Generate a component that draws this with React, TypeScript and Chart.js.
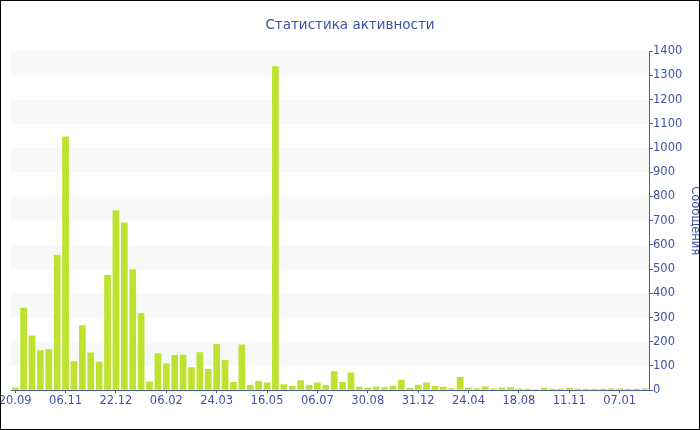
import React, { useEffect, useRef } from "react";
import { Chart, registerables } from "chart.js";

Chart.register(...registerables);

const titleText = "Статистика активности";
const yTitle = "Сообщения";
const tickLabels = ["20.09", "06.11", "22.12", "06.02", "24.03", "16.05", "06.07", "30.08", "31.12", "24.04", "18.08", "11.11", "07.01"];
const labelEvery = 6;
const values = [
  11, 340, 226, 165, 169, 559, 1048, 120, 268, 156,
  117, 476, 743, 693, 500, 318, 36, 153, 110, 145,
  146, 95, 157, 88, 191, 125, 34, 189, 22, 38,
  32, 1338, 25, 17, 41, 21, 32, 21, 78, 34,
  73, 14, 10, 15, 12, 18, 43, 10, 22, 32,
  17, 14, 8, 55, 11, 8, 15, 7, 11, 12,
  7, 6, 4, 10, 6, 6, 10, 6, 6, 6,
  6, 7, 7, 6, 6, 7,
];
const categories = values.map((_, i) => String(i));
const yMax = 1400;
const bandStep = 100;

const axisColor = "#4a5ba6";
const textColor = "#3e52a2";
const barColor = "#bde22f";
const bandColor = "#f8f8f8";
const font = "'DejaVu Sans', Verdana, sans-serif";

const bandsPlugin = {
  id: "bands",
  beforeDatasetsDraw(chart: any) {
    const { ctx, chartArea, scales } = chart;
    const y = scales.y;
    ctx.save();
    ctx.fillStyle = bandColor;
    for (let v = bandStep; v < yMax; v += bandStep * 2) {
      const top = y.getPixelForValue(v + bandStep);
      const bot = y.getPixelForValue(v);
      ctx.fillRect(chartArea.left, top, chartArea.right - chartArea.left, bot - top);
    }
    ctx.restore();
  },
  afterDraw(chart: any) {
    const { ctx, width, height } = chart;
    ctx.save();
    ctx.strokeStyle = "#000";
    ctx.lineWidth = 1;
    ctx.strokeRect(0.5, 0.5, width - 1, height - 1);
    ctx.restore();
  },
};

export default function App() {
  const ref = useRef<HTMLCanvasElement>(null);
  useEffect(() => {
    if (!ref.current) return;
    const chart = new Chart(ref.current, {
      type: "bar",
      data: {
        labels: categories,
        datasets: [
          {
            data: values,
            backgroundColor: barColor,
            borderWidth: 0,
            barPercentage: 0.8,
            categoryPercentage: 1,
          },
        ],
      },
      plugins: [bandsPlugin],
      options: {
        animation: false,
        responsive: false,
        layout: { padding: { left: 0, right: 0, top: 0, bottom: 21 } },
        plugins: {
          legend: { display: false },
          tooltip: { enabled: false },
          title: {
            display: true,
            text: titleText,
            color: textColor,
            font: { family: font, size: 13.5, weight: "normal" },
            padding: { top: 17, bottom: 18 },
          },
        },
        scales: {
          x: {
            grid: {
              display: true,
              drawOnChartArea: false,
              offset: false,
              tickLength: 3,
              color: axisColor,
            },
            border: { color: axisColor, width: 1 },
            afterBuildTicks: (scale: any) => {
              scale.ticks = scale.ticks.filter((_: any, i: number) => i % labelEvery === 0);
            },
            afterFit: (scale: any) => {
              scale.paddingLeft = 11;
              scale.paddingRight = 0;
            },
            ticks: {
              autoSkip: false,
              maxRotation: 0,
              padding: 1,
              color: textColor,
              font: { family: font, size: 11.5 },
              callback: (value: any) => {
                const idx = Math.round(Number(value) / labelEvery);
                return tickLabels[idx] ?? "";
              },
            },
          },
          y: {
            position: "right",
            min: 0,
            max: yMax,
            grid: {
              display: true,
              drawOnChartArea: false,
              tickLength: 4,
              color: axisColor,
            },
            border: { color: axisColor, width: 1 },
            afterFit: (scale: any) => {
              scale.width = 51;
            },
            ticks: {
              stepSize: 50,
              padding: 0,
              color: textColor,
              font: { family: font, size: 11.5 },
              callback: (value: any) => (Number(value) % 100 === 0 ? String(value) : ""),
            },
            title: {
              display: true,
              text: yTitle,
              color: textColor,
              font: { family: font, size: 11.5 },
              padding: { top: -2, bottom: 0 },
            },
          },
        },
      },
    });
    return () => chart.destroy();
  }, []);
  return (
    <div style={{ position: "absolute", left: 0, top: 0, width: 700, height: 430, background: "#fff" }}>
      <canvas ref={ref} width={700} height={430} style={{ display: "block" }} />
    </div>
  );
}
